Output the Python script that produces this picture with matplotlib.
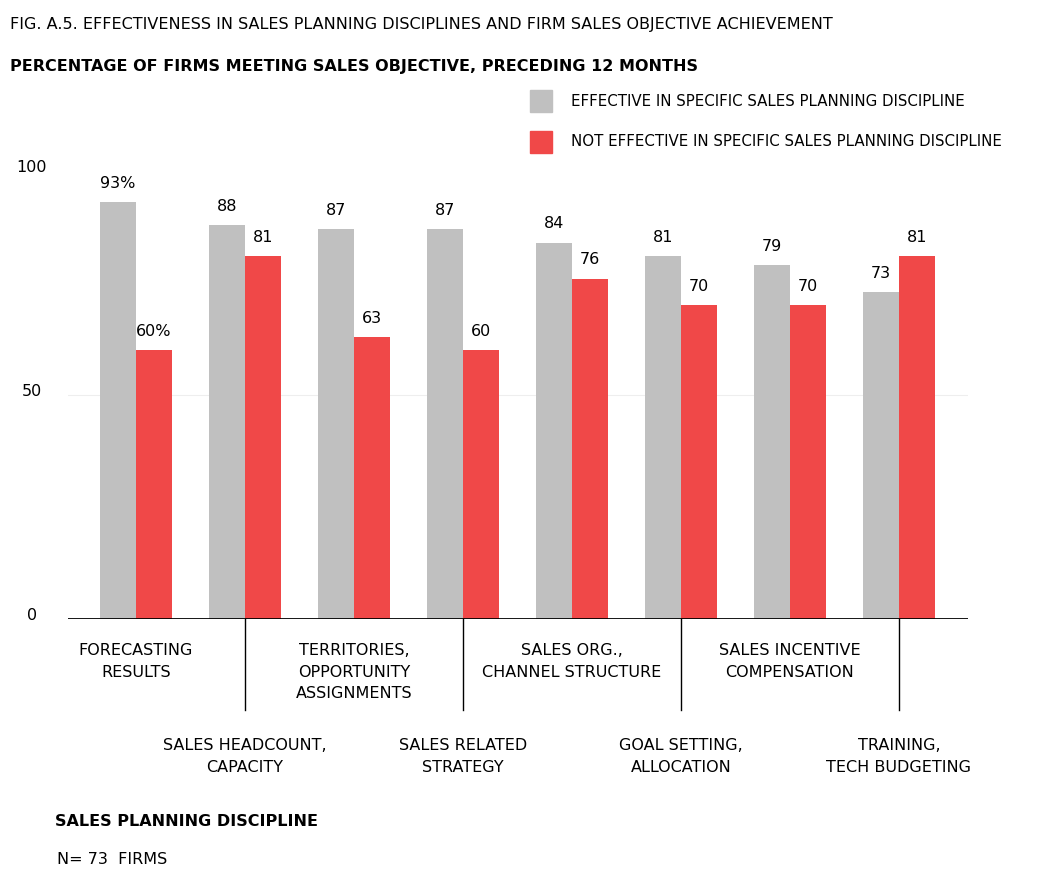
import matplotlib
matplotlib.use("Agg")
import matplotlib.pyplot as plt
from matplotlib.patches import Rectangle

plt.rcParams['font.family'] = ['DejaVu Sans']

categories = ["FORECASTING\nRESULTS", "SALES HEADCOUNT,\nCAPACITY", "TERRITORIES,\nOPPORTUNITY\nASSIGNMENTS",
              "SALES RELATED\nSTRATEGY", "SALES ORG.,\nCHANNEL STRUCTURE", "GOAL SETTING,\nALLOCATION",
              "SALES INCENTIVE\nCOMPENSATION", "TRAINING,\nTECH BUDGETING"]
effective = [93, 88, 87, 87, 84, 81, 79, 73]
not_effective = [60, 81, 63, 60, 76, 70, 70, 81]
eff_labels = ["93%", "88", "87", "87", "84", "81", "79", "73"]
not_labels = ["60%", "81", "63", "60", "76", "70", "70", "81"]
yticks = [0, 50, 100]

GRAY = "#C0C0C0"
RED = "#F04848"
FS = 11.5
W, H = 1061, 882
fig = plt.figure(figsize=(W/100, H/100), dpi=100)
left, right, top, bottom = 68, 968, 150, 619
ax = fig.add_axes([left/W, 1-bottom/H, (right-left)/W, (bottom-top)/H])
sp = 109.0
ax.set_xlim((left-136)/sp, (right-136)/sp)
ax.set_ylim(0, (bottom-top)/4.48)
bw = 36/sp
x = list(range(len(categories)))
ax.bar([i - bw/2 for i in x], effective, width=bw, color=GRAY, zorder=2)
ax.bar([i + bw/2 for i in x], not_effective, width=bw, color=RED, zorder=2)
for i in x:
    ax.text(i - bw/2, effective[i] + 2.5, eff_labels[i], ha='center', va='bottom', fontsize=FS)
    ax.text(i + bw/2, not_effective[i] + 2.5, not_labels[i], ha='center', va='bottom', fontsize=FS)
ax.axhline(50, color="#EEEEEE", lw=0.8, zorder=1)
ax.axhline(0, color="black", lw=2, zorder=3)
for s in ax.spines.values():
    s.set_visible(False)
ax.set_xticks([]); ax.set_yticks([])
for t in yticks:
    ax.text((32-136)/sp, t + 0.8, str(t), ha='center', va='center', fontsize=FS, clip_on=False)

def fx(px): return px/W
def fy(py): return 1-py/H
for i, c in enumerate(categories):
    cx = 136 + i*sp
    if i % 2 == 0:
        fig.text(fx(cx), fy(643), c, ha='center', va='top', fontsize=FS, linespacing=1.55)
    else:
        fig.text(fx(cx), fy(738), c, ha='center', va='top', fontsize=FS, linespacing=1.55)
        fig.add_artist(plt.Line2D([fx(cx), fx(cx)], [fy(619), fy(710)], color='black', lw=1))

fig.text(fx(10), fy(25), "FIG. A.5. EFFECTIVENESS IN SALES PLANNING DISCIPLINES AND FIRM SALES OBJECTIVE ACHIEVEMENT",
         va='center', fontsize=11.5)
fig.text(fx(10), fy(67), "PERCENTAGE OF FIRMS MEETING SALES OBJECTIVE, PRECEDING 12 MONTHS",
         va='center', fontsize=11.5, fontweight='bold')
fig.add_artist(Rectangle((fx(530), fy(112)), 22/W, 22/H, color=GRAY))
fig.add_artist(Rectangle((fx(530), fy(153)), 22/W, 22/H, color=RED))
fig.text(fx(571), fy(102), "EFFECTIVE IN SPECIFIC SALES PLANNING DISCIPLINE", va='center', fontsize=10.8)
fig.text(fx(571), fy(142), "NOT EFFECTIVE IN SPECIFIC SALES PLANNING DISCIPLINE", va='center', fontsize=10.8)
fig.text(fx(55), fy(822), "SALES PLANNING DISCIPLINE", va='center', fontsize=FS, fontweight='bold')
fig.text(fx(57), fy(859), "N= 73  FIRMS", va='center', fontsize=FS)
fig.savefig("out.png", dpi=100, facecolor='white')
